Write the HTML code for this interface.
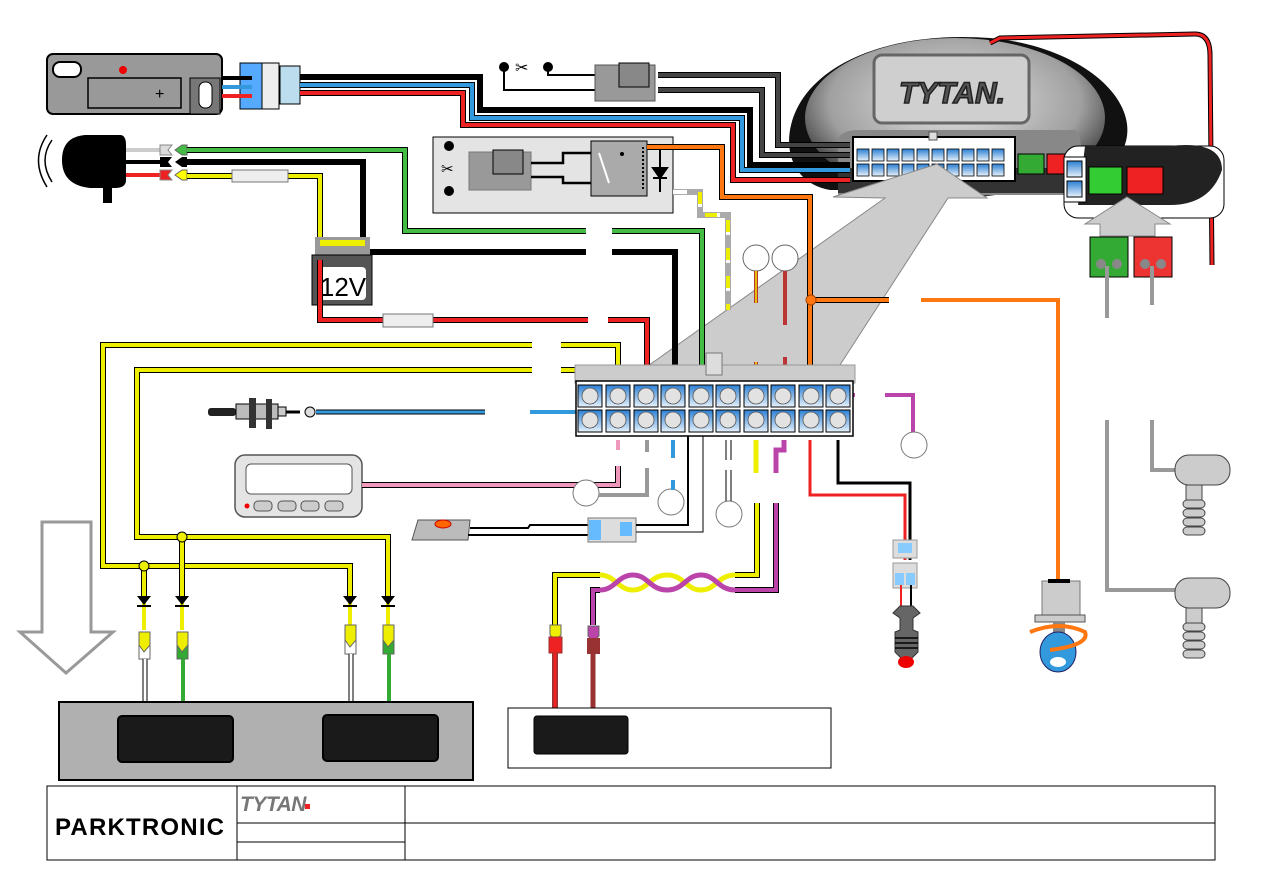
<!DOCTYPE html>
<html><head><meta charset="utf-8"><style>
html,body{margin:0;padding:0;background:#fff;width:1263px;height:893px;overflow:hidden}
svg{display:block}
.o{fill:none;stroke:#000;stroke-width:6}
.w{fill:none;stroke-width:4}
.t{font-family:"Liberation Sans",sans-serif}
</style></head><body>
<svg width="1263" height="893" viewBox="0 0 1263 893" xmlns="http://www.w3.org/2000/svg">
<defs>
<linearGradient id="pin" x1="0" y1="0" x2="0" y2="1"><stop offset="0" stop-color="#2b7fd4"/><stop offset="1" stop-color="#e8f2fb"/></linearGradient>
<radialGradient id="unit" cx="0.5" cy="0.4" r="0.6"><stop offset="0" stop-color="#e6e6e6"/><stop offset="0.7" stop-color="#a0a0a0"/><stop offset="1" stop-color="#303030"/></radialGradient>
</defs>

<!-- main TYTAN unit -->
<path d="M1070,190 C1180,150 1120,50 990,38 C880,30 800,70 790,130 C785,160 800,185 830,190 Z" fill="#111"/>
<ellipse cx="955" cy="118" rx="150" ry="80" fill="url(#unit)"/>
<rect x="874" y="55" width="155" height="68" rx="8" fill="#cfcfcf" stroke="#666" stroke-width="3"/>
<text x="952" y="103" text-anchor="middle" class="t" font-size="30" font-weight="bold" font-style="italic" fill="#555" stroke="#222" stroke-width="1.5">TYTAN.</text>
<path d="M838,195 L838,140 Q840,130 860,130 L1075,130 Q1085,135 1080,195 Z" fill="#888"/>
<rect x="838" y="168" width="240" height="25" fill="#333"/>
<rect x="853" y="137" width="162" height="44" fill="#fff" stroke="#000" stroke-width="2"/>
<rect x="929" y="132" width="8" height="8" fill="#ddd" stroke="#555"/>
<g fill="url(#pin)" stroke="#000" stroke-width="0.8">
<rect x="857" y="149" width="12" height="12"/><rect x="872" y="149" width="12" height="12"/><rect x="887" y="149" width="12" height="12"/><rect x="902" y="149" width="12" height="12"/><rect x="917" y="149" width="12" height="12"/><rect x="932" y="149" width="12" height="12"/><rect x="947" y="149" width="12" height="12"/><rect x="962" y="149" width="12" height="12"/><rect x="977" y="149" width="12" height="12"/><rect x="992" y="149" width="12" height="12"/>
<rect x="857" y="164" width="12" height="12"/><rect x="872" y="164" width="12" height="12"/><rect x="887" y="164" width="12" height="12"/><rect x="902" y="164" width="12" height="12"/><rect x="917" y="164" width="12" height="12"/><rect x="932" y="164" width="12" height="12"/><rect x="947" y="164" width="12" height="12"/><rect x="962" y="164" width="12" height="12"/><rect x="977" y="164" width="12" height="12"/><rect x="992" y="164" width="12" height="12"/>
</g>
<rect x="1018" y="154" width="26" height="20" fill="#3a3" stroke="#000"/>
<rect x="1047" y="154" width="22" height="20" fill="#e22" stroke="#000"/>

<!-- big gray arrow (over unit) -->
<polygon points="937,164 987,198 948,198 838,368 645,368 885,198 833,197" fill="#cccccc" stroke="#888" stroke-width="1"/>

<!-- red wire around -->
<path d="M990,43 L1000,38 L1195,34 Q1210,34 1210,55 L1212,265" fill="none" stroke="#000" stroke-width="5"/>
<path d="M990,43 L1000,38 L1195,34 Q1210,34 1210,55 L1212,265" fill="none" stroke="#e22" stroke-width="3"/>
<!-- side box -->
<rect x="1064" y="146" width="160" height="72" rx="14" fill="#fff" stroke="#000"/>
<path d="M1085,146 L1170,146 Q1222,140 1222,170 Q1210,205 1170,205 L1078,205 Z" fill="#222"/>
<rect x="1064" y="157" width="22" height="45" fill="#fff" stroke="#000"/>
<rect x="1067" y="161" width="15" height="16" fill="url(#pin)" stroke="#000"/>
<rect x="1067" y="181" width="15" height="16" fill="url(#pin)" stroke="#000"/>
<rect x="1089" y="167" width="33" height="27" fill="#3c3" stroke="#000"/>
<rect x="1127" y="167" width="36" height="27" fill="#e22" stroke="#000"/>
<polygon points="1127,197 1170,224 1155,224 1155,236 1100,236 1100,224 1085,224" fill="#ccc" stroke="#888"/>
<rect x="1090" y="237" width="38" height="40" fill="#3a3" stroke="#000"/>
<rect x="1134" y="237" width="38" height="40" fill="#e33" stroke="#000"/>
<circle cx="1101" cy="264" r="5" fill="#888"/><circle cx="1117" cy="264" r="5" fill="#888"/>
<circle cx="1145" cy="264" r="5" fill="#888"/><circle cx="1161" cy="264" r="5" fill="#888"/>
<g fill="none" stroke="#999" stroke-width="4">
<path d="M1107,266 L1107,318"/><path d="M1152,266 L1152,305"/>
<path d="M1107,420 L1107,590 L1180,590"/><path d="M1152,420 L1152,470 L1180,470"/>
</g>
<!-- right probes -->
<g fill="#ccc" stroke="#444">
<rect x="1175" y="455" width="55" height="30" rx="14"/><rect x="1186" y="485" width="16" height="15"/>
<rect x="1183" y="500" width="22" height="8" rx="4"/><rect x="1183" y="509" width="22" height="8" rx="4"/><rect x="1183" y="518" width="22" height="8" rx="4"/><rect x="1183" y="527" width="22" height="8" rx="4"/>
<rect x="1175" y="578" width="55" height="30" rx="14"/><rect x="1186" y="608" width="16" height="15"/>
<rect x="1183" y="623" width="22" height="8" rx="4"/><rect x="1183" y="632" width="22" height="8" rx="4"/><rect x="1183" y="641" width="22" height="8" rx="4"/><rect x="1183" y="650" width="22" height="8" rx="4"/>
</g>

<!-- top-left keyfob unit -->
<rect x="47" y="54" width="175" height="60" rx="6" fill="#999" stroke="#000" stroke-width="2"/>
<rect x="53" y="62" width="28" height="15" rx="7" fill="#fff" stroke="#000" stroke-width="2"/>
<circle cx="123" cy="70" r="4" fill="#e00"/>
<rect x="88" y="78" width="93" height="30" fill="#999" stroke="#000" stroke-width="1.5"/>
<text x="155" y="99" class="t" font-size="16" fill="#000">+</text>
<rect x="190" y="78" width="30" height="36" fill="#777" stroke="#000"/>
<rect x="199" y="82" width="13" height="26" rx="6" fill="#fff" stroke="#000"/>
<rect x="240" y="63" width="22" height="46" fill="#5af" stroke="#000"/>
<rect x="262" y="63" width="17" height="46" fill="#eee" stroke="#000"/>
<rect x="280" y="66" width="20" height="38" fill="#bde" stroke="#000"/>
<path d="M222,78 L252,78" stroke="#000" stroke-width="4"/><path d="M222,87 L252,87" stroke="#39d" stroke-width="4"/><path d="M222,96 L252,96" stroke="#e22" stroke-width="4"/>

<!-- wires from keyfob to unit -->
<polyline class="o" points="300,77 480,77 480,110 750,110 750,165 850,165"/><polyline class="w" stroke="#000" points="300,77 480,77 480,110 750,110 750,165 850,165"/>
<polyline class="o" points="300,85 472,85 472,118 742,118 742,170 850,170"/><polyline class="w" stroke="#39d" points="300,85 472,85 472,118 742,118 742,170 850,170"/>
<polyline class="o" points="300,93 463,93 463,125 733,125 733,180 850,180"/><polyline class="w" stroke="#e22" points="300,93 463,93 463,125 733,125 733,180 850,180"/>
<polyline class="o" points="658,75 778,75 778,145 850,145"/><polyline class="w" stroke="#444" points="658,75 778,75 778,145 850,145"/>
<polyline class="o" points="658,90 762,90 762,155 850,155"/><polyline class="w" stroke="#444" points="658,90 762,90 762,155 850,155"/>

<!-- scissors + connector -->
<circle cx="504" cy="67" r="5" fill="#000"/><circle cx="548" cy="67" r="5" fill="#000"/>
<text x="515" y="73" class="t" font-size="16">✂</text>
<path d="M504,67 L504,90 L595,90 M548,67 L548,75 L595,75" fill="none" stroke="#000" stroke-width="2"/>
<rect x="595" y="65" width="60" height="36" fill="#999" stroke="#555"/>
<rect x="619" y="63" width="30" height="24" fill="#888" stroke="#000"/>

<!-- relay box -->
<rect x="433" y="137" width="240" height="76" fill="#e4e4e4" stroke="#000"/>
<circle cx="449" cy="146" r="5" fill="#000"/><circle cx="449" cy="191" r="5" fill="#000"/>
<text x="441" y="174" class="t" font-size="15">✂</text>
<rect x="469" y="152" width="62" height="38" fill="#999" stroke="#777"/>
<rect x="493" y="150" width="30" height="24" fill="#888" stroke="#000"/>
<path d="M531,163 L563,163 L563,153 L591,153 M531,177 L563,177 L563,183 L591,183" fill="none" stroke="#000" stroke-width="2.5"/>
<rect x="591" y="141" width="56" height="55" fill="#aaa" stroke="#000"/>
<path d="M599,153 L609,183" stroke="#fff" stroke-width="2"/><circle cx="622" cy="154" r="2" fill="#000"/>
<path d="M643,147 L643,191" stroke="#000" stroke-width="2" stroke-dasharray="2,2"/>
<path d="M660,148 L660,192 M653,168 L667,168 L660,178 Z M653,178 L667,178" stroke="#000" stroke-width="2" fill="#000"/>

<!-- siren -->
<g fill="none" stroke="#000" stroke-width="1.5">
<path d="M52,140 Q38,160 52,182"/><path d="M47,135 Q30,160 47,187"/>
</g>
<path d="M85,135 L120,135 Q126,135 126,145 L126,180 Q126,188 115,188 L90,188 Q62,185 62,160 Q62,137 85,135 Z" fill="#000"/>
<rect x="103" y="165" width="9" height="38" fill="#000"/>
<path d="M126,150 L160,150" stroke="#ccc" stroke-width="4"/><path d="M126,162 L160,162" stroke="#000" stroke-width="4"/><path d="M126,175 L160,175" stroke="#e22" stroke-width="4"/>
<polygon points="160,145 172,145 168,150 172,155 160,155" fill="#ddd" stroke="#888"/>
<polygon points="160,157 172,157 168,162 172,167 160,167" fill="#000"/>
<polygon points="160,170 172,170 168,175 172,180 160,180" fill="#e22" stroke="#888"/>
<polygon points="175,150 182,145 187,145 187,155 182,155" fill="#4b4" stroke="#666"/>
<polygon points="175,162 182,157 187,157 187,167 182,167" fill="#000"/>
<polygon points="175,175 182,170 187,170 187,180 182,180" fill="#ff0" stroke="#666"/>

<!-- siren wires -->
<polyline class="o" points="187,150 405,150 405,231 586,231"/><polyline class="w" stroke="#4b4" points="187,150 405,150 405,231 586,231"/>
<polyline class="o" points="612,231 702,231 702,383"/><polyline class="w" stroke="#4b4" points="612,231 702,231 702,383"/>
<polyline class="o" points="187,162 363,162 363,252 586,252"/><polyline class="w" stroke="#000" points="187,162 363,162 363,252 586,252"/>
<polyline class="o" points="612,252 675,252 675,383"/><polyline class="w" stroke="#000" points="612,252 675,252 675,383"/>
<polyline class="o" points="187,176 320,176 320,250"/><polyline class="w" stroke="#ee0" points="187,176 320,176 320,250"/>
<rect x="232" y="170" width="56" height="12" fill="#eee" stroke="#777"/>

<!-- battery -->
<rect x="315" y="237" width="55" height="20" fill="#999"/><rect x="320" y="240" width="45" height="6" fill="#ee0"/>
<rect x="312" y="255" width="60" height="50" fill="#555" stroke="#000"/>
<rect x="320" y="267" width="46" height="33" rx="4" fill="#fff"/>
<text x="343" y="296" text-anchor="middle" class="t" font-size="26">12V</text>
<polyline class="o" points="320,260 320,320 588,320"/><polyline class="w" stroke="#e22" points="320,260 320,320 588,320"/>
<rect x="383" y="314" width="50" height="13" fill="#eee" stroke="#777"/>
<polyline class="o" points="608,320 647,320 647,383"/><polyline class="w" stroke="#e22" points="608,320 647,320 647,383"/>

<!-- relay orange/white -->
<polyline class="o" points="647,147 722,147 722,197 810,197 810,383"/><polyline class="w" stroke="#f71" points="647,147 722,147 722,197 810,197 810,383"/>
<polyline class="o" points="810,300 889,300"/><polyline class="w" stroke="#f71" points="810,300 889,300"/>
<polyline points="921,300 1058,300 1058,585" fill="none" stroke="#f71" stroke-width="4"/>
<circle cx="811" cy="300" r="5" fill="#f71" stroke="#a40"/>
<polyline points="673,192 700,192 700,215 728,215 728,310" fill="none" stroke="#aaa" stroke-width="6"/>
<polyline points="673,192 700,192 700,215 728,215 728,310" fill="none" stroke="#fff" stroke-width="4" stroke-dasharray="14,14"/>
<polyline points="700,192 700,215 728,215 728,310" fill="none" stroke="#ee0" stroke-width="4" stroke-dasharray="12,16"/>
<circle cx="756" cy="258" r="13" fill="#fff" stroke="#666"/><circle cx="785" cy="258" r="13" fill="#fff" stroke="#666"/>
<path d="M756,271 L756,303" stroke="#b33" stroke-width="4"/><path d="M756,271 L756,303" stroke="#ee0" stroke-width="1.5"/>
<path d="M785,271 L785,325" stroke="#b33" stroke-width="4"/>
<path d="M756,362 L756,383" stroke="#b33" stroke-width="4"/><path d="M756,362 L756,383" stroke="#ee0" stroke-width="1.5"/>
<path d="M785,357 L785,383" stroke="#b33" stroke-width="4"/>

<!-- yellow long wires -->
<polyline class="o" points="532,345 103,345 103,566 350,566 350,600"/><polyline class="w" stroke="#ee0" points="532,345 103,345 103,566 350,566 350,600"/>
<polyline class="o" points="561,345 618,345 618,383"/><polyline class="w" stroke="#ee0" points="561,345 618,345 618,383"/>
<polyline class="o" points="532,370 137,370 137,537 388,537 388,600"/><polyline class="w" stroke="#ee0" points="532,370 137,370 137,537 388,537 388,600"/>
<polyline class="o" points="561,370 590,370 590,383"/><polyline class="w" stroke="#ee0" points="561,370 590,370 590,383"/>
<polyline class="o" points="144,566 144,600"/><polyline class="w" stroke="#ee0" points="144,566 144,630"/>
<polyline class="o" points="182,537 182,600"/><polyline class="w" stroke="#ee0" points="182,537 182,630"/>
<path d="M350,600 L350,630 M388,600 L388,630" stroke="#ee0" stroke-width="4"/>
<circle cx="144" cy="566" r="5" fill="#ee0" stroke="#000"/><circle cx="182" cy="537" r="5" fill="#ee0" stroke="#000"/>
<g fill="#000"><polygon points="137,596 151,596 144,605"/><polygon points="175,596 189,596 182,605"/><polygon points="343,596 357,596 350,605"/><polygon points="381,596 395,596 388,605"/></g>
<g stroke="#000" stroke-width="2"><path d="M137,606 L151,606 M175,606 L189,606 M343,606 L357,606 M381,606 L395,606"/></g>
<!-- sensor connectors -->
<g stroke="#666">
<rect x="139" y="645" width="11" height="14" fill="#fff"/><rect x="177" y="645" width="11" height="14" fill="#3a3"/>
<rect x="345" y="640" width="11" height="14" fill="#fff"/><rect x="383" y="640" width="11" height="14" fill="#3a3"/>
<polygon points="139,632 150,632 150,645 144,652 139,645" fill="#ee0"/><polygon points="177,632 188,632 188,645 182,652 177,645" fill="#ee0"/>
<polygon points="345,625 356,625 356,640 350,647 345,640" fill="#ee0"/><polygon points="383,625 394,625 394,640 388,647 383,640" fill="#ee0"/>
</g>
<path d="M145,659 L145,716 M351,654 L351,716" stroke="#000" stroke-width="5"/><path d="M145,659 L145,716 M351,654 L351,716" stroke="#fff" stroke-width="3"/>
<path d="M183,659 L183,716 M389,654 L389,716" stroke="#3a3" stroke-width="4"/>
<!-- big outline arrow -->
<polygon points="42,522 91,522 91,632 113,632 66,673 20,632 42,632" fill="#fff" stroke="#999" stroke-width="3"/>
<!-- bumper -->
<rect x="59" y="702" width="414" height="78" fill="#b0b0b0" stroke="#000" stroke-width="2"/>
<rect x="118" y="716" width="115" height="46" rx="4" fill="#1a1a1a" stroke="#000" stroke-width="2"/>
<rect x="323" y="715" width="115" height="46" rx="4" fill="#1a1a1a" stroke="#000" stroke-width="2"/>

<!-- temperature sensor -->
<rect x="208" y="408" width="28" height="8" rx="3" fill="#222"/>
<rect x="236" y="404" width="42" height="15" fill="#bbb" stroke="#000"/>
<rect x="249" y="398" width="7" height="30" fill="#333"/><rect x="266" y="399" width="6" height="30" fill="#333"/>
<rect x="278" y="407" width="8" height="9" fill="#ccc" stroke="#000"/>
<path d="M286,412 L300,412" stroke="#000" stroke-width="3"/>
<circle cx="310" cy="412" r="5" fill="#ddd" stroke="#000"/>
<polyline class="o" points="316,412 485,412" style="stroke-width:5"/><polyline points="316,412 485,412" fill="none" stroke="#39d" stroke-width="3"/>
<polyline points="530,412 578,412 578,425 585,425" fill="none" stroke="#39d" stroke-width="4"/>

<!-- display -->
<rect x="235" y="455" width="127" height="62" rx="10" fill="#e4e4e4" stroke="#555" stroke-width="1.5"/>
<rect x="246" y="464" width="106" height="30" rx="5" fill="#fff" stroke="#555"/>
<circle cx="247" cy="506" r="2.5" fill="#e00"/>
<rect x="254" y="501" width="18" height="10" rx="4" fill="#ccc" stroke="#555"/><rect x="278" y="501" width="18" height="10" rx="4" fill="#ccc" stroke="#555"/><rect x="301" y="501" width="18" height="10" rx="4" fill="#ccc" stroke="#555"/><rect x="325" y="501" width="18" height="10" rx="4" fill="#ccc" stroke="#555"/>
<polyline class="o" points="362,485 618,485 618,466"/><polyline class="w" stroke="#e9b" points="362,485 618,485 618,466"/>
<path d="M618,450 L618,440" stroke="#e9b" stroke-width="4"/>
<circle cx="586" cy="493" r="13" fill="#fff" stroke="#777"/>
<polyline points="599,495 647,495 647,468" fill="none" stroke="#999" stroke-width="4"/>
<path d="M647,452 L647,440" stroke="#999" stroke-width="4"/>
<circle cx="671" cy="502" r="13" fill="#fff" stroke="#777"/>
<path d="M673,480 L673,490 M673,440 L673,458" stroke="#39d" stroke-width="4"/>
<!-- button -->
<polygon points="418,520 470,520 468,540 412,540" fill="#bbb" stroke="#555"/>
<ellipse cx="443" cy="524" rx="8" ry="4" fill="#f60" stroke="#c00"/>
<path d="M470,528 L528,528 L530,525 L588,525 M468,535 L588,535" fill="none" stroke="#000" stroke-width="2"/>
<rect x="588" y="518" width="48" height="24" fill="#ddd" stroke="#777"/><rect x="589" y="520" width="12" height="20" fill="#6bf"/><rect x="620" y="522" width="12" height="14" fill="#6bf"/>
<path d="M636,525 L688,525 L688,420" fill="none" stroke="#000" stroke-width="2"/>
<path d="M636,532 L703,532 L703,425" fill="none" stroke="#000" stroke-width="1"/>
<circle cx="729" cy="514" r="13" fill="#fff" stroke="#777"/>
<path d="M726,470 L726,501 M731,470 L731,501 M726,440 L726,460 M731,440 L731,460" stroke="#000" stroke-width="1"/>
<!-- twisted pair -->
<polyline points="756,440 756,473" fill="none" stroke="#ee0" stroke-width="5"/>
<polyline points="784,440 784,450 776,450 776,473" fill="none" stroke="#b4a" stroke-width="5"/>
<polyline class="o" points="757,503 757,575 735,575"/><polyline class="w" stroke="#ee0" points="757,503 757,575 735,575"/>
<polyline class="o" points="776,503 776,590 735,590"/><polyline class="w" stroke="#b4a" points="776,503 776,590 735,590"/>
<path d="M600,575 C615,575 618,590 633,590 C648,590 650,575 667,575 C684,575 686,590 701,590 C716,590 718,575 735,575" fill="none" stroke="#ee0" stroke-width="5"/>
<path d="M600,590 C615,590 618,575 633,575 C648,575 650,590 667,590 C684,590 686,575 701,575 C716,575 718,590 735,590" fill="none" stroke="#b4a" stroke-width="5"/>
<polyline class="o" points="600,575 555,575 555,625"/><polyline class="w" stroke="#ee0" points="600,575 555,575 555,625"/>
<polyline class="o" points="600,590 593,590 593,625"/><polyline class="w" stroke="#b4a" points="600,590 593,590 593,625"/>
<polygon points="550,625 561,625 561,635 555,641 550,635" fill="#ee0" stroke="#666"/>
<polygon points="588,626 599,626 599,636 593,642 588,636" fill="#b4a" stroke="#666"/>
<rect x="549" y="637" width="13" height="16" fill="#e22" stroke="#933"/><rect x="587" y="638" width="13" height="16" fill="#933"/>
<path d="M555,653 L555,716" stroke="#933" stroke-width="6"/><path d="M555,653 L555,716" stroke="#e22" stroke-width="3"/>
<path d="M593,654 L593,716" stroke="#933" stroke-width="5"/>
<rect x="508" y="708" width="323" height="60" fill="#fff" stroke="#000"/>
<rect x="534" y="716" width="94" height="38" rx="3" fill="#1a1a1a" stroke="#000"/>

<!-- LED wires -->
<polyline points="810,440 810,495 905,495 905,560" fill="none" stroke="#e22" stroke-width="3"/>
<polyline points="838,440 838,483 910,483 910,560" fill="none" stroke="#000" stroke-width="3"/>
<path d="M845,395 L855,395" stroke="#b4a" stroke-width="4"/>
<polyline points="885,395 913,395 913,432" fill="none" stroke="#b4a" stroke-width="4"/>
<circle cx="914" cy="445" r="13" fill="#fff" stroke="#777"/>
<rect x="893" y="540" width="24" height="18" fill="#ddd" stroke="#999"/><rect x="898" y="543" width="14" height="10" fill="#8cf"/>
<rect x="893" y="563" width="24" height="25" fill="#ddd" stroke="#999"/><rect x="895" y="573" width="9" height="12" fill="#8cf"/><rect x="906" y="573" width="9" height="12" fill="#8cf"/>
<path d="M901,585 L901,628" stroke="#e22" stroke-width="2"/><path d="M911,585 L911,628" stroke="#000" stroke-width="2"/>
<polygon points="893,613 900,606 913,606 920,613 913,618 913,630 918,632 918,652 910,660 903,660 895,652 895,632 900,630 900,618" fill="#666" stroke="#333"/>
<path d="M895,638 L918,638 M895,643 L918,643 M895,648 L918,648" stroke="#000" stroke-width="1.5"/>
<ellipse cx="906" cy="662" rx="8" ry="6" fill="#e00"/>
<!-- ignition motor -->
<rect x="1042" y="581" width="38" height="35" fill="#ccc" stroke="#777"/>
<rect x="1048" y="579" width="22" height="4" fill="#000"/>
<rect x="1035" y="615" width="50" height="7" fill="#ccc" stroke="#555"/>
<rect x="1053" y="622" width="12" height="15" fill="#888"/>
<ellipse cx="1058" cy="652" rx="18" ry="20" fill="#39d" stroke="#226"/>
<ellipse cx="1058" cy="662" rx="8" ry="5" fill="#fff"/>
<path d="M1030,632 Q1060,620 1085,632 Q1090,645 1050,650" fill="none" stroke="#f71" stroke-width="4"/>

<!-- connector block -->
<rect x="575" y="365" width="280" height="18" fill="#ccc" stroke="#999"/>
<rect x="706" y="353" width="16" height="22" fill="#ddd" stroke="#777"/>
<rect x="576" y="381" width="277" height="55" fill="#fff" stroke="#000" stroke-width="1.5"/>
<g stroke="#000" stroke-width="1">
<rect x="578" y="385" width="24" height="22" fill="url(#pin)"/><rect x="606" y="385" width="24" height="22" fill="url(#pin)"/><rect x="634" y="385" width="24" height="22" fill="url(#pin)"/><rect x="661" y="385" width="24" height="22" fill="url(#pin)"/><rect x="689" y="385" width="24" height="22" fill="url(#pin)"/><rect x="716" y="385" width="24" height="22" fill="url(#pin)"/><rect x="744" y="385" width="24" height="22" fill="url(#pin)"/><rect x="771" y="385" width="24" height="22" fill="url(#pin)"/><rect x="799" y="385" width="24" height="22" fill="url(#pin)"/><rect x="826" y="385" width="24" height="22" fill="url(#pin)"/>
<rect x="578" y="410" width="24" height="22" fill="url(#pin)"/><rect x="606" y="410" width="24" height="22" fill="url(#pin)"/><rect x="634" y="410" width="24" height="22" fill="url(#pin)"/><rect x="661" y="410" width="24" height="22" fill="url(#pin)"/><rect x="689" y="410" width="24" height="22" fill="url(#pin)"/><rect x="716" y="410" width="24" height="22" fill="url(#pin)"/><rect x="744" y="410" width="24" height="22" fill="url(#pin)"/><rect x="771" y="410" width="24" height="22" fill="url(#pin)"/><rect x="799" y="410" width="24" height="22" fill="url(#pin)"/><rect x="826" y="410" width="24" height="22" fill="url(#pin)"/>
</g>
<g fill="#e2e2e2" stroke="#555" stroke-width="0.8">
<circle cx="590" cy="396" r="8"/><circle cx="618" cy="396" r="8"/><circle cx="646" cy="396" r="8"/><circle cx="673" cy="396" r="8"/><circle cx="701" cy="396" r="8"/><circle cx="728" cy="396" r="8"/><circle cx="756" cy="396" r="8"/><circle cx="783" cy="396" r="8"/><circle cx="811" cy="396" r="8"/><circle cx="838" cy="396" r="8"/>
<circle cx="590" cy="420" r="8"/><circle cx="618" cy="420" r="8"/><circle cx="646" cy="420" r="8"/><circle cx="673" cy="420" r="8"/><circle cx="701" cy="420" r="8"/><circle cx="728" cy="420" r="8"/><circle cx="756" cy="420" r="8"/><circle cx="783" cy="420" r="8"/><circle cx="811" cy="420" r="8"/><circle cx="838" cy="420" r="8"/>
</g>

<!-- title block -->
<rect x="47" y="786" width="1168" height="74" fill="#fff" stroke="#000"/>
<path d="M237,786 L237,860 M405,786 L405,860 M237,823 L1215,823 M237,842 L405,842" stroke="#000" stroke-width="1"/>
<text x="55" y="835" class="t" font-size="24" font-weight="bold" letter-spacing="1.2">PARKTRONIC</text>
<text x="240" y="811" class="t" font-size="21" font-weight="bold" font-style="italic" fill="#777" letter-spacing="-0.5">TYTAN</text><rect x="305" y="804" width="5" height="5" fill="#e22"/>
</svg>
</body></html>
